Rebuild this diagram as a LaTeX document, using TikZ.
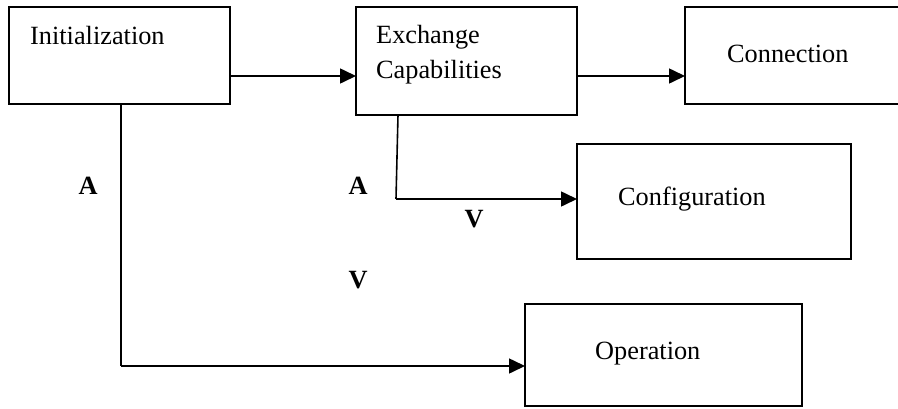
\documentclass[tikz,border=0pt]{standalone}
\usepackage{fontspec}
\setmainfont{Liberation Serif}
\usetikzlibrary{arrows.meta}
\begin{document}
\begin{tikzpicture}[x=1pt,y=-1pt,
  box/.style={draw, line width=1.6pt, rectangle, inner sep=0pt, outer sep=0pt, anchor=north west},
  lbl/.style={inner sep=0pt, anchor=base west, font=\fontsize{26.3pt}{31pt}\selectfont},
  letter/.style={inner sep=0pt, anchor=base, font=\fontsize{26.3pt}{31pt}\selectfont\bfseries},
  link/.style={line width=1.6pt},
  arr/.style={line width=1.6pt, -{Triangle[length=16pt,width=15pt]}}]
\useasboundingbox (0,0) rectangle (898,408);
\clip (0,0) rectangle (898,408);

% boxes
\node[box, minimum width=221pt, minimum height=97pt]  (init) at (9,7) {};
\node[box, minimum width=221pt, minimum height=108pt] (exch) at (356,7) {};
\node[box, minimum width=220pt, minimum height=97pt]  (conn) at (685,7) {};
\node[box, minimum width=274pt, minimum height=115pt] (cfg)  at (577,144) {};
\node[box, minimum width=277pt, minimum height=102pt] (op)   at (525,304) {};

% box texts
\node[lbl] (tinit) at (30,44) {Initialization};
\node[lbl] (texch1) at (376,43) {Exchange};
\node[lbl] (texch2) at (376,78) {Capabilities};
\node[lbl] (tconn) at (727,62) {Connection};
\node[lbl] (tcfg) at (618,205) {Configuration};
\node[lbl] (top) at (595,359) {Operation};

% bold letters
\node[letter] (a1) at (88,194) {A};
\node[letter] (a2) at (358,194) {A};
\node[letter] (v1) at (474,227) {V};
\node[letter] (v2) at (358,288) {V};

% connectors
\coordinate (p1) at ([yshift=-20.5pt]init.east);
\draw[arr] (p1) -- (p1 -| exch.west);
\coordinate (p2) at ([yshift=-15pt]exch.east);
\draw[arr] (p2) -- (p2 -| conn.west);

\coordinate (e1) at ([xshift=-68.5pt]exch.south);
\coordinate (e2) at ([xshift=-2pt,yshift=2.5pt]e1 |- cfg.west);
\draw[link] (e1) -- (e2);
\draw[arr] (e2) -- (e2 -| cfg.west);

\coordinate (i1) at ([xshift=1.5pt]init.south);
\coordinate (i2) at ([yshift=-11pt]i1 |- op.west);
\draw[link] (i1) -- (i2);
\draw[arr] (i2) -- (i2 -| op.west);
\end{tikzpicture}
\end{document}
